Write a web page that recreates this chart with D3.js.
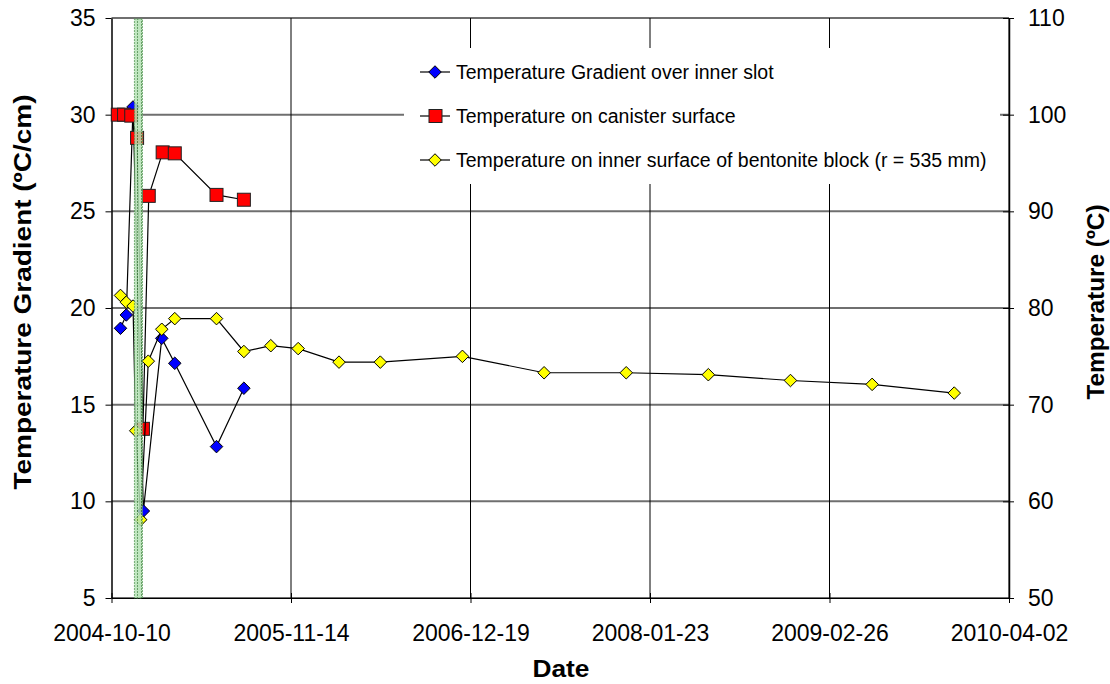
<!DOCTYPE html>
<html>
<head>
<meta charset="utf-8">
<script src="https://cdn.jsdelivr.net/npm/d3@7"></script>
<style>
  body { margin: 0; background: #fff; }
  text { font-family: Arial, "Liberation Sans", sans-serif; }
</style>
</head>
<body>
<script>
// gradient over the inner slot (left axis, ºC/cm)
let gradDates = ['2004-10-30', '2004-11-12', '2004-11-27', '2004-12-20', '2005-01-30', '2005-02-28', '2005-06-01', '2005-08-01']
let gradValues = [18.95, 19.64, 30.4, 9.5, 18.43, 17.14, 12.83, 15.85]

// canister surface temperature (right axis, ºC)
let canisterDates = ['2004-10-24', '2004-11-07', '2004-11-23', '2004-12-06', '2004-12-19', '2005-01-01', '2005-02-01', '2005-02-28', '2005-06-01', '2005-08-01']
let canisterValues = [100.0, 100.0, 99.9, 97.6, 67.5, 91.6, 96.1, 96.0, 91.7, 91.2]

// inner surface of bentonite block (right axis, ºC)
let blockDates = ['2004-10-30', '2004-11-12', '2004-11-27', '2004-12-03', '2004-12-14', '2004-12-31', '2005-01-30', '2005-02-28',
  '2005-06-01', '2005-08-01', '2005-09-30', '2005-11-30', '2006-03-01', '2006-06-01', '2006-12-01', '2007-06-01',
  '2007-12-01', '2008-06-01', '2008-12-01', '2009-06-01', '2009-12-01']
let blockValues = [81.3, 80.6, 80.2, 67.3, 58.1, 74.5, 77.8, 78.9, 78.9, 75.5, 76.1, 75.8, 74.4, 74.4, 75.0, 73.3,
  73.3, 73.1, 72.5, 72.1, 71.2]

let xTickLabels = ['2004-10-10', '2005-11-14', '2006-12-19', '2008-01-23', '2009-02-26', '2010-04-02']
let leftTicks = [5, 10, 15, 20, 25, 30, 35]
let rightTicks = [50, 60, 70, 80, 90, 100, 110]
let eventDate = '2004-12-09'

let legendLabels = [
  'Temperature Gradient over inner slot',
  'Temperature on canister surface',
  'Temperature on inner surface of bentonite block (r = 535 mm)'
]

let width = 1110, height = 684
let margin = { top: 18, left: 111.5, right: 101, bottom: 86 }
let parse = d3.utcParse('%Y-%m-%d')

let svg = d3.select('body').append('svg')
  .attr('width', width).attr('height', height)

let x = d3.scaleUtc()
  .domain([parse(xTickLabels[0]), parse(xTickLabels[xTickLabels.length - 1])])
  .range([margin.left, width - margin.right])
let yL = d3.scaleLinear().domain([5, 35]).range([height - margin.bottom, margin.top])
let yR = d3.scaleLinear().domain([50, 110]).range([height - margin.bottom, margin.top])

let defs = svg.append('defs')
let pat = defs.append('pattern').attr('id', 'hatch')
  .attr('width', 4).attr('height', 3).attr('patternUnits', 'userSpaceOnUse')
pat.append('rect').attr('width', 4).attr('height', 3).attr('fill', '#b4e2b4')
pat.append('rect').attr('x', 1).attr('width', 1).attr('height', 2).attr('fill', '#4f8f4f')

// gridlines
svg.append('g').selectAll('line').data(leftTicks).enter().append('line')
  .attr('x1', margin.left).attr('x2', width - margin.right)
  .attr('y1', d => yL(d)).attr('y2', d => yL(d))
  .attr('stroke', '#6f6f6f').attr('stroke-width', 2)

svg.append('g').selectAll('line').data(xTickLabels.slice(1)).enter().append('line')
  .attr('x1', d => x(parse(d))).attr('x2', d => x(parse(d)))
  .attr('y1', margin.top).attr('y2', height - margin.bottom)
  .attr('stroke', '#000').attr('stroke-width', 1)

// axes
let tickFont = g => g.selectAll('text').style('font-size', '23px').attr('fill', '#000')

svg.append('g')
  .attr('transform', `translate(0,${height - margin.bottom})`)
  .call(d3.axisBottom(x).tickValues(xTickLabels.map(parse)).tickFormat(d3.utcFormat('%Y-%m-%d'))
    .tickSizeInner(5).tickSizeOuter(0).tickPadding(22))
  .call(g => g.selectAll('.tick line').attr('y1', -5))
  .call(g => g.select('.domain').attr('stroke', '#000'))
  .call(tickFont)

svg.append('g')
  .attr('transform', `translate(${margin.left},0)`)
  .call(d3.axisLeft(yL).tickValues(leftTicks).tickSizeInner(6).tickSizeOuter(0).tickPadding(10))
  .call(g => g.select('.domain').attr('stroke', '#000').attr('stroke-width', 1.5))
  .call(tickFont)

svg.append('g')
  .attr('transform', `translate(${width - margin.right},0)`)
  .call(d3.axisRight(yR).tickValues(rightTicks).tickSizeInner(5).tickSizeOuter(0).tickPadding(14))
  .call(g => g.selectAll('.tick line').attr('x1', -6))
  .call(g => g.select('.domain').attr('stroke', '#000').attr('stroke-width', 1.5))
  .call(tickFont)

// axis titles
let title = (sel, len) => sel.attr('text-anchor', 'middle').style('font-size', '24px')
  .style('font-weight', 'bold').attr('textLength', len).attr('lengthAdjust', 'spacingAndGlyphs')
svg.append('text').attr('x', 561).attr('y', 677).call(title, 57).text('Date')
svg.append('text').attr('transform', 'translate(31,292) rotate(-90)').call(title, 395)
  .text('Temperature Gradient (ºC/cm)')
svg.append('text').attr('transform', 'translate(1104,302) rotate(-90)').call(title, 195)
  .text('Temperature (ºC)')

// series
let diamond = d3.symbol().type(d3.symbolDiamond2).size(100)
let series = [
  { dates: gradDates, values: gradValues, y: yL, fill: '#0000ff', shape: 'diamond' },
  { dates: canisterDates, values: canisterValues, y: yR, fill: '#ff0000', shape: 'square' },
  { dates: blockDates, values: blockValues, y: yR, fill: '#ffff00', shape: 'diamond' }
]

series.forEach(s => {
  let pts = s.dates.map((d, i) => [x(parse(d)), s.y(s.values[i])])
  svg.append('path').datum(pts)
    .attr('d', d3.line())
    .attr('fill', 'none').attr('stroke', '#000').attr('stroke-width', 1.2)
  let g = svg.append('g')
  if (s.shape === 'square') {
    g.selectAll('rect').data(pts).enter().append('rect')
      .attr('x', d => d[0] - 6.5).attr('y', d => d[1] - 6.5)
      .attr('width', 13).attr('height', 13)
      .attr('fill', s.fill).attr('stroke', '#222').attr('stroke-width', 1)
  } else {
    g.selectAll('path').data(pts).enter().append('path')
      .attr('d', diamond).attr('transform', d => `translate(${d[0]},${d[1]})`)
      .attr('fill', s.fill).attr('stroke', '#000').attr('stroke-width', 1)
  }
})

// event band
let ex = x(parse(eventDate))
svg.append('rect').attr('x', ex - 4).attr('y', margin.top + 1).attr('width', 8)
  .attr('height', height - margin.bottom - margin.top - 1)
  .attr('fill', 'url(#hatch)').attr('opacity', 0.85)
  .attr('stroke', '#5f9f5f').attr('stroke-width', 1).attr('stroke-dasharray', '2,1')

// legend
let leg = svg.append('g')
leg.append('rect').attr('x', 404).attr('y', 48).attr('width', 596).attr('height', 136).attr('fill', '#fff')
legendLabels.forEach((label, i) => {
  let s = series[i]
  let ly = 72 + i * 44
  leg.append('line').attr('x1', 420).attr('x2', 450).attr('y1', ly).attr('y2', ly)
    .attr('stroke', '#000').attr('stroke-width', 1.2)
  if (s.shape === 'square') {
    leg.append('rect').attr('x', 429).attr('y', ly - 6.5).attr('width', 13).attr('height', 13)
      .attr('fill', s.fill).attr('stroke', '#222')
  } else {
    leg.append('path').attr('d', diamond).attr('transform', `translate(435,${ly})`)
      .attr('fill', s.fill).attr('stroke', '#000')
  }
  leg.append('text').attr('x', 456).attr('y', ly + 7).style('font-size', '19.5px').text(label)
})
</script>
</body>
</html>
